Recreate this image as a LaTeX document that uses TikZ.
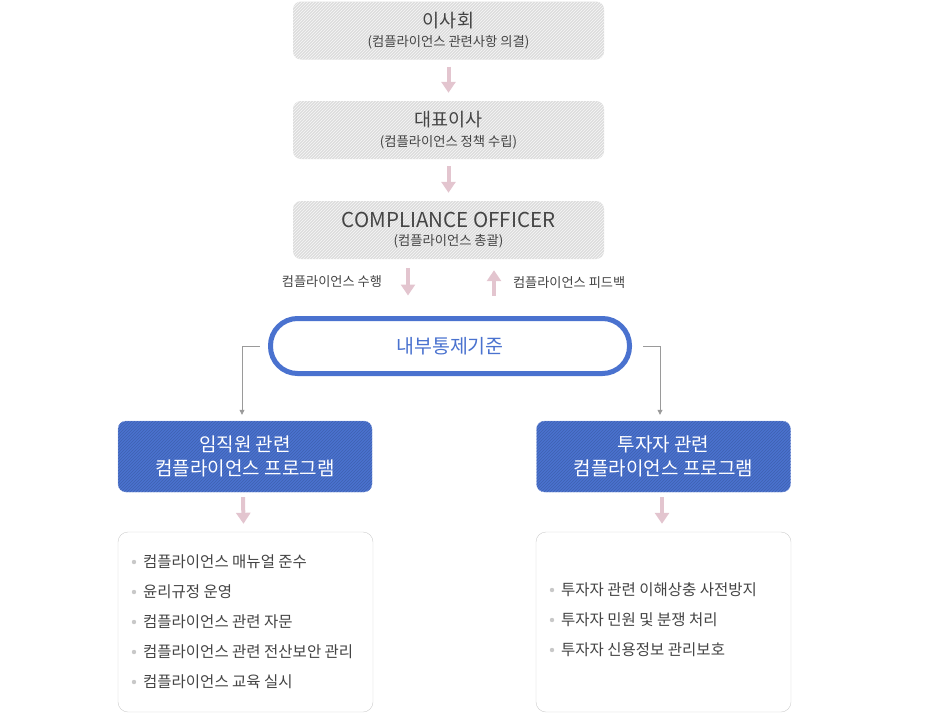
\documentclass[tikz,border=0pt]{standalone}
\usepackage{fontspec}
\setmainfont{Noto Sans CJK KR}
\usetikzlibrary{positioning,arrows.meta,patterns}

\definecolor{boxgray}{HTML}{DCDCDC}
\definecolor{txtgray}{HTML}{444444}
\definecolor{ctlblue}{HTML}{4A72CF}
\definecolor{arrpink}{HTML}{E3C5CF}
\definecolor{lngray}{HTML}{9A9A9A}
\definecolor{bulgray}{HTML}{C8C8C8}
\definecolor{edgegray}{HTML}{CDCDCD}

\begin{document}
\begin{tikzpicture}[x=1pt, y=-1pt,
  gb/.style={fill=boxgray, rounded corners=8pt, minimum width=311pt, minimum height=58pt, align=center, text=txtgray, inner sep=0pt,
    postaction={pattern=north east lines, pattern color=white!78!boxgray}},
  bb/.style={fill=ctlblue, draw=ctlblue!55, rounded corners=8pt, minimum width=254pt, minimum height=71pt, align=center, text=white,
    font=\fontsize{19}{24}\selectfont, postaction={pattern=north east lines, pattern color=ctlblue!85!black}},
  lb/.style={draw=edgegray, fill=white, rounded corners=10pt, minimum width=255pt, minimum height=180pt},
  it/.style={anchor=west, text=txtgray, font=\fontsize{15.5}{18}\selectfont, inner sep=0pt},
  lbl/.style={text=txtgray, font=\fontsize{13.2}{15}\selectfont, inner sep=0pt},
  parr/.style={draw=arrpink, line width=4pt, -{Triangle[length=11pt,width=14pt]}},
  garr/.style={draw=lngray, line width=0.8pt, -{Triangle[length=5pt,width=5pt]}, shorten >=6pt}
]
\useasboundingbox (0,0) rectangle (929,715);

% top chain
\foreach \n/\y/\f/\t/\s in {
 bod/30.5/18.5/이사회/컴플라이언스 관련사항 의결,
 ceo/130/18.5/대표이사/컴플라이언스 정책 수립,
 co/230/20.5/COMPLIANCE OFFICER/컴플라이언스 총괄}
 \node[gb] (\n) at (448.5,\y) {\fontsize{\f}{20}\selectfont \t\\[6pt]\fontsize{13.3}{15}\selectfont (\s)};
\foreach \a/\b in {bod/ceo,ceo/co} \draw[parr] ([yshift=-7pt]\a.south) -- ([yshift=8pt]\b.north);

% internal control standard
\node[draw=ctlblue, line width=5pt, rounded corners=27pt, minimum width=359pt, minimum height=55pt,
  text=ctlblue, font=\fontsize{19.5}{22}\selectfont] (ic) at (450,346) {내부통제기준};
\draw[parr] ([xshift=-40.5pt,yshift=-9pt]co.south) -- ([xshift=-42pt,yshift=20.5pt]ic.north)
  node[midway, left=24pt, lbl] {컴플라이언스 수행};
\draw[parr] ([xshift=44pt,yshift=20.5pt]ic.north) -- ([xshift=45.5pt,yshift=-11pt]co.south)
  node[midway, right=17pt, lbl] {컴플라이언스 피드백};

% programs
\node[bb] (emp) at (245,456.5) {임직원 관련\\컴플라이언스 프로그램};
\node[bb] (inv) at (663.5,456.5) {투자자 관련\\컴플라이언스 프로그램};
\draw[garr] ([xshift=-8.5pt]ic.west) -| ([xshift=-3pt]emp.north);
\draw[garr] ([xshift=11pt]ic.east) -| ([xshift=-3.5pt]inv.north);

% task lists
\node[lb] (el) at (245.5,622) {};
\node[lb] (il) at (663.5,622) {};
\draw[parr] ([xshift=-2pt,yshift=-5pt]emp.south) -- ([xshift=-2pt,yshift=8pt]el.north);
\draw[parr] ([xshift=-1.5pt,yshift=-5pt]inv.south) -- ([xshift=-1.5pt,yshift=8pt]il.north);

\foreach \t [count=\i] in {컴플라이언스 매뉴얼 준수, 윤리규정 운영, 컴플라이언스 관련 자문, 컴플라이언스 관련 전산보안 관리, 컴플라이언스 교육 실시}
{
 \node[it] (e\i) at (143,532+30*\i) {\t};
 \fill[bulgray] ([xshift=-9pt]e\i.west) circle (2.2pt);
}
\foreach \t [count=\i] in {투자자 관련 이해상충 사전방지, 투자자 민원 및 분쟁 처리, 투자자 신용정보 관리보호}
{
 \node[it] (v\i) at (561,560+30*\i) {\t};
 \fill[bulgray] ([xshift=-9pt]v\i.west) circle (2.2pt);
}
\end{tikzpicture}
\end{document}
